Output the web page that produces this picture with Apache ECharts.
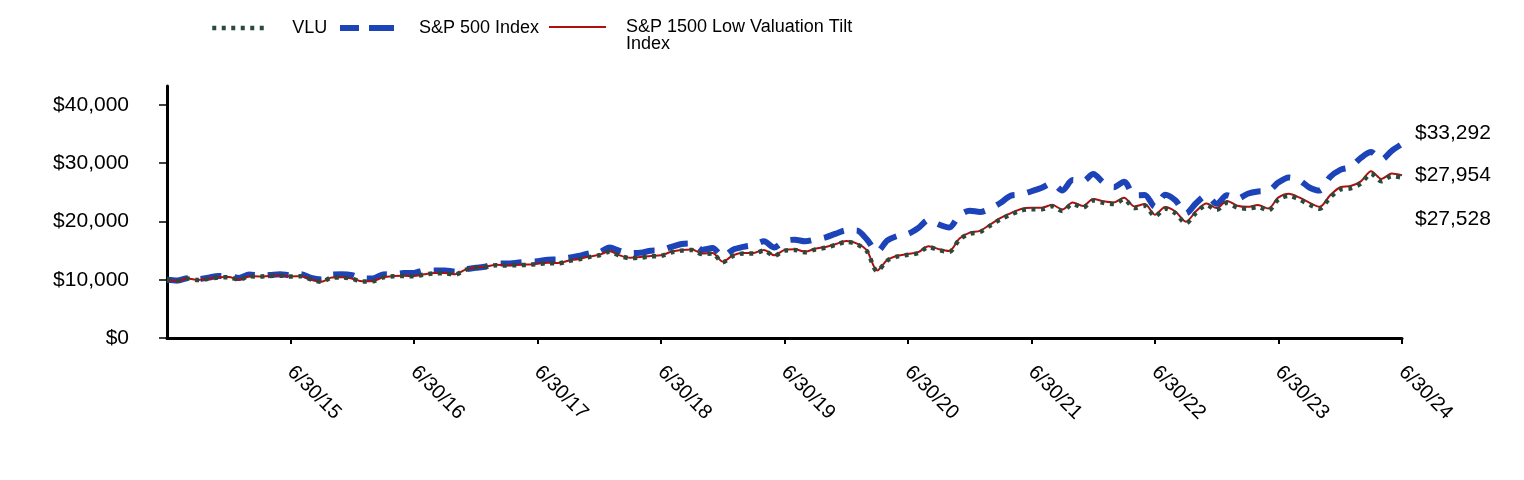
<!DOCTYPE html>
<html>
<head>
<meta charset="utf-8">
<script src="https://cdn.jsdelivr.net/npm/echarts@6/dist/echarts.min.js"></script>
<style>
html,body{margin:0;padding:0;background:#fff;}
#chart{width:1524px;height:480px;}
</style>
</head>
<body>
<div id="chart"></div>
<script>
var dates = [
'6/30/14','7/31/14','8/31/14','9/30/14','10/31/14','11/30/14','12/31/14',
'1/31/15','2/28/15','3/31/15','4/30/15','5/31/15','6/30/15','7/31/15','8/31/15','9/30/15','10/31/15','11/30/15','12/31/15',
'1/31/16','2/29/16','3/31/16','4/30/16','5/31/16','6/30/16','7/31/16','8/31/16','9/30/16','10/31/16','11/30/16','12/31/16',
'1/31/17','2/28/17','3/31/17','4/30/17','5/31/17','6/30/17','7/31/17','8/31/17','9/30/17','10/31/17','11/30/17','12/31/17',
'1/31/18','2/28/18','3/31/18','4/30/18','5/31/18','6/30/18','7/31/18','8/31/18','9/30/18','10/31/18','11/30/18','12/31/18',
'1/31/19','2/28/19','3/31/19','4/30/19','5/31/19','6/30/19','7/31/19','8/31/19','9/30/19','10/31/19','11/30/19','12/31/19',
'1/31/20','2/29/20','3/31/20','4/30/20','5/31/20','6/30/20','7/31/20','8/31/20','9/30/20','10/31/20','11/30/20','12/31/20',
'1/31/21','2/28/21','3/31/21','4/30/21','5/31/21','6/30/21','7/31/21','8/31/21','9/30/21','10/31/21','11/30/21','12/31/21',
'1/31/22','2/28/22','3/31/22','4/30/22','5/31/22','6/30/22','7/31/22','8/31/22','9/30/22','10/31/22','11/30/22','12/31/22',
'1/31/23','2/28/23','3/31/23','4/30/23','5/31/23','6/30/23','7/31/23','8/31/23','9/30/23','10/31/23','11/30/23','12/31/23',
'1/31/24','2/29/24','3/31/24','4/30/24','5/31/24','6/30/24'
];

var vlu = [
10000,9800,10200,9950,10150,10400,10450,
10000,10600,10550,10650,10700,10550,10600,10050,9650,10350,10400,10150,
9700,9750,10400,10600,10650,10600,10900,11100,11100,10900,11700,12100,
12200,12500,12450,12500,12550,12700,12850,12800,13200,13500,13900,14200,
14800,14100,13700,13800,14000,14100,14700,15000,15100,14400,14500,13000,
14100,14500,14500,15000,14100,15000,15100,14700,15200,15500,16000,16500,
16100,14900,11500,13300,14000,14300,14600,15600,15100,14800,16900,17900,
18200,19300,20400,21200,21900,22100,22100,22600,21800,23000,22400,23600,
23200,23000,23800,22300,22700,20900,22200,21400,19700,21500,22800,22000,
23200,22400,22200,22500,21900,23800,24400,23800,22900,22200,24100,25500,
25700,26500,28200,26900,27800,27528
];

var sp500 = [
10000,9862,10256,10113,10360,10638,10612,
10294,10886,10714,10817,10956,10744,10970,10308,10053,10902,10934,10761,
10227,10214,10906,10949,11146,11175,11587,11603,11605,11394,11816,12050,
12279,12766,12781,12913,13095,13176,13448,13490,13768,14089,14521,14682,
15523,14950,14570,14625,14978,15071,15632,16142,16234,15123,15432,14038,
15163,15650,15953,16599,15545,16641,16880,16613,16924,17291,17919,18460,
18453,16935,14843,16746,17543,17892,18901,20260,19490,18971,21048,21857,
21636,22233,23207,24446,24617,25191,25790,26574,25338,27114,26927,28133,
26678,25880,26840,24500,24545,22520,24596,23592,21420,23155,24450,23041,
24489,23891,24767,25154,25262,26720,27570,27130,25840,25300,27610,28860,
29350,30910,31910,30610,32130,33292
];

var lowValTilt = [
10000,9805,10205,9960,10160,10410,10460,
10010,10610,10565,10665,10715,10565,10620,10070,9670,10370,10425,10175,
9725,9775,10430,10630,10680,10635,10935,11140,11140,10940,11745,12150,
12250,12555,12505,12555,12610,12760,12915,12865,13270,13570,13975,14280,
14885,14180,13780,13885,14085,14190,14795,15100,15200,14500,14600,13090,
14200,14605,14605,15110,14205,15115,15220,14820,15325,15630,16135,16640,
16240,15030,11600,13420,14125,14435,14740,15750,15250,14950,17070,18085,
18390,19505,20620,21430,22140,22345,22350,22860,22055,23270,22665,23880,
23480,23280,24095,22580,22985,21165,22485,21680,19960,21785,23105,22300,
23520,22715,22515,22825,22220,24130,24750,24145,23235,22530,24460,25875,
26080,26895,28625,27305,28220,27954
];

var yTicks = [0, 10000, 20000, 30000, 40000];
var seriesNames = ['VLU', 'S&P 500 Index', 'S&P 1500 Low Valuation Tilt Index'];

var FONT = '"Liberation Sans", Arial, sans-serif';
function money(v){ return '$' + Math.round(v).toLocaleString('en-US'); }

var C_VLU = '#2c4a3b', C_SP = '#1c44b8', C_IDX = '#b00f0f';
var STYLE_VLU = {color: C_VLU, width: 4.5, type: [4, 5.5]};
var STYLE_SP = {color: C_SP, width: 6, type: [21, 13]};
var STYLE_IDX = {color: C_IDX, width: 2};

var chart = echarts.init(document.getElementById('chart'), null, {renderer: 'canvas'});
var legendText = {color: '#000', fontSize: 18, fontFamily: FONT, lineHeight: 17};

chart.setOption({
  animation: false,
  backgroundColor: '#fff',
  grid: {left: 167, right: 122, top: 86, bottom: 142, containLabel: false},
  legend: [
    {data: [seriesNames[0]], left: 210, top: 19, padding: 0, itemWidth: 55, itemHeight: 14,
     itemStyle: {opacity: 0}, lineStyle: STYLE_VLU,
     textStyle: Object.assign({}, legendText, {padding: [0, 0, 0, 20]})},
    {data: [seriesNames[1]], left: 337, top: 19, padding: 0, itemWidth: 54, itemHeight: 14,
     itemStyle: {opacity: 0}, lineStyle: {color: C_SP, width: 6, type: [19, 10, 25, 5]},
     textStyle: Object.assign({}, legendText, {padding: [0, 0, 0, 20]})},
    {data: [seriesNames[2]], left: 548, top: 1, padding: 0, itemWidth: 57, itemHeight: 14,
     itemStyle: {opacity: 0}, lineStyle: STYLE_IDX,
     formatter: function(){ return '\nS&P 1500 Low Valuation Tilt\nIndex'; },
     textStyle: Object.assign({}, legendText, {padding: [0, 0, 0, 15]})}
  ],
  xAxis: {
    type: 'category',
    data: dates,
    boundaryGap: false,
    axisLine: {show: true, lineStyle: {color: '#000', width: 3}},
    axisTick: {show: true, length: 6, lineStyle: {color: '#000', width: 2},
      interval: function(i){ return i > 0 && i % 12 === 0; }},
    axisLabel: {
      interval: function(i){ return i > 0 && i % 12 === 0; },
      rotate: -45, margin: 31, color: '#000', fontSize: 20, fontFamily: FONT
    },
    splitLine: {show: false}
  },
  yAxis: {
    type: 'value',
    min: 0,
    max: 43260,
    axisLine: {show: true, lineStyle: {color: '#000', width: 3}},
    axisTick: {show: true, length: 8, customValues: yTicks, lineStyle: {color: '#000', width: 1.5}},
    axisLabel: {customValues: yTicks, margin: 38, color: '#000', fontSize: 21, fontFamily: FONT,
      formatter: function(v){ return money(v); }},
    splitLine: {show: false}
  },
  series: [
    {
      name: seriesNames[1], type: 'line', data: sp500, symbol: 'none', smooth: 0.3, z: 2,
      color: C_SP, lineStyle: STYLE_SP,
      endLabel: {show: true, distance: 13, offset: [0, -11], color: '#000', fontSize: 21, fontFamily: FONT,
        formatter: function(p){ return money(p.value); }}
    },
    {
      name: seriesNames[2], type: 'line', data: lowValTilt, symbol: 'none', smooth: 0.3, z: 3,
      color: C_IDX, lineStyle: STYLE_IDX,
      endLabel: {show: true, distance: 13, offset: [0, 0], color: '#000', fontSize: 21, fontFamily: FONT,
        formatter: function(p){ return money(p.value); }}
    },
    {
      name: seriesNames[0], type: 'line', data: vlu, symbol: 'none', smooth: 0.3, z: 4,
      color: C_VLU, lineStyle: STYLE_VLU,
      endLabel: {show: true, distance: 13, offset: [0, 42], color: '#000', fontSize: 21, fontFamily: FONT,
        formatter: function(p){ return money(p.value); }}
    }
  ]
});
</script>
</body>
</html>
